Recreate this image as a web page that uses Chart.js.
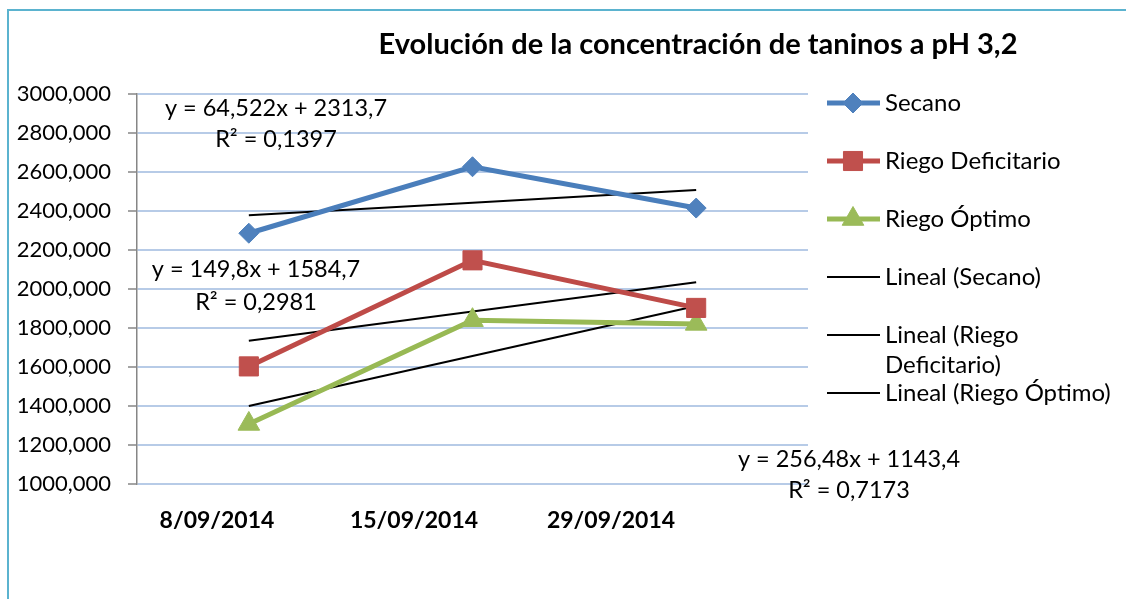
<!DOCTYPE html>
<html lang="es">
<head>
<meta charset="utf-8">
<title>Evolución de la concentración de taninos a pH 3,2</title>
<script src="https://cdn.jsdelivr.net/npm/chart.js@4/dist/chart.umd.min.js"></script>
<style>
  html, body { margin: 0; padding: 0; background: #fff; overflow: hidden; }
  #marco {
    position: absolute; left: 7px; top: 9px;
    width: 1140px; height: 620px;
    border: 2px solid #5bb3cf; box-sizing: border-box;
  }
  #grafico { position: absolute; left: 0; top: 0; }
</style>
</head>
<body>
<div id="marco"></div>
<canvas id="grafico" width="1126" height="599"></canvas>
<script>
// Datos
const fechas = ["8/09/2014", "15/09/2014", "29/09/2014"];
const secano = [2286, 2627, 2415];
const riegoDeficitario = [1603, 2147, 1903];
const riegoOptimo = [1308, 1840, 1821];

// Líneas de tendencia (ecuaciones mostradas en el gráfico)
const pendientes = [64.522, 149.8, 256.48];
const ordenadas = [2313.7, 1584.7, 1143.4];
const r2 = [0.1397, 0.2981, 0.7173];

const ticksY = [1000, 1200, 1400, 1600, 1800, 2000, 2200, 2400, 2600, 2800, 3000];

const titulo = "Evolución de la concentración de taninos a pH 3,2";
const series = ["Secano", "Riego Deficitario", "Riego Óptimo"];

const coma = (n) => String(n).replace(".", ",");
const tendencia = (k) => fechas.map((f, i) => pendientes[k] * (i + 1) + ordenadas[k]);

// posiciones de las etiquetas de ecuación (centro x, y ecuación, y R²)
const etiquetasEc = [
  [276, 108, 139],
  [256, 269, 302],
  [849, 459, 490],
];

const textosPlugin = {
  id: "textos",
  afterDraw(chart) {
    const ctx = chart.ctx;
    ctx.save();
    ctx.fillStyle = "#000";
    ctx.textBaseline = "middle";

    // título
    ctx.textAlign = "center";
    ctx.font = "bold 29px Lato";
    ctx.fillText(titulo, 698, 45);

    // ecuaciones
    ctx.font = "23.5px Lato";
    etiquetasEc.forEach((p, k) => {
      ctx.fillText("y = " + coma(pendientes[k]) + "x + " + coma(ordenadas[k]), p[0], p[1]);
      ctx.fillText("R² = " + coma(r2[k]), p[0], p[2]);
    });

    // leyenda
    ctx.textAlign = "left";
    ctx.font = "24px Lato";
    chart.data.datasets.forEach((ds, i) => {
      const y = 103 + i * 58;
      ctx.strokeStyle = ds.borderColor;
      ctx.lineWidth = ds.borderWidth;
      ctx.beginPath();
      ctx.moveTo(827, y);
      ctx.lineTo(880, y);
      ctx.stroke();
      if (ds.pointRadius > 0) {
        ctx.fillStyle = ds.pointBackgroundColor;
        ctx.strokeStyle = ds.pointBackgroundColor;
        ctx.lineWidth = 1;
        Chart.helpers.drawPoint(ctx, { pointStyle: ds.pointStyle, radius: ds.pointRadius, rotation: 0, borderWidth: 1 }, 853, y);
      }
      ctx.fillStyle = "#000";
      // ajuste de línea como en Excel
      const palabras = ds.label.split(" ");
      let linea = "", ly = y;
      palabras.forEach((w) => {
        const prueba = linea ? linea + " " + w : w;
        if (linea && ctx.measureText(prueba).width > 236) {
          ctx.fillText(linea, 885, ly);
          linea = w;
          ly += 30;
        } else {
          linea = prueba;
        }
      });
      ctx.fillText(linea, 885, ly);
    });
    ctx.restore();
  },
};

const ctx = document.getElementById("grafico").getContext("2d");
const grafico = new Chart(ctx, {
  type: "line",
  data: {
    labels: fechas,
    datasets: [
      {
        label: series[0],
        data: secano,
        borderColor: "#4a7ebb",
        borderWidth: 5,
        pointStyle: "rectRot",
        pointRadius: 10,
        pointBackgroundColor: "#4f81bd",
        pointBorderColor: "#4f81bd",
        pointBorderWidth: 1,
      },
      {
        label: series[1],
        data: riegoDeficitario,
        borderColor: "#be4b48",
        borderWidth: 5,
        pointStyle: "rect",
        pointRadius: 13.5,
        pointBackgroundColor: "#c0504d",
        pointBorderColor: "#c0504d",
        pointBorderWidth: 1,
      },
      {
        label: series[2],
        data: riegoOptimo,
        borderColor: "#98b954",
        borderWidth: 5,
        pointStyle: "triangle",
        pointRadius: 12.5,
        pointBackgroundColor: "#9bbb59",
        pointBorderColor: "#9bbb59",
        pointBorderWidth: 1,
      },
      ...series.map((s, k) => ({
        label: "Lineal (" + s + ")",
        data: tendencia(k),
        borderColor: "#000",
        borderWidth: 2,
        pointRadius: 0,
      })),
    ],
  },
  options: {
    responsive: false,
    animation: false,
    layout: { padding: { left: 0, top: 94, right: 318, bottom: 0 } },
    plugins: {
      legend: { display: false },
      tooltip: { enabled: false },
    },
    scales: {
      x: { type: "category", display: false, offset: true },
      xFechas: {
        type: "linear",
        position: "bottom",
        min: 0.594,
        max: 4.0,
        grid: { display: false },
        border: { display: false },
        afterBuildTicks: (s) => { s.ticks = fechas.map((f, i) => ({ value: i + 1 })); },
        afterFit: (s) => { s.height = 115; },
        ticks: {
          callback: (v) => fechas[v - 1],
          font: { family: "Lato", size: 23, weight: "bold" },
          color: "#000",
          padding: 15,
          maxRotation: 0,
          autoSkip: false,
        },
      },
      y: {
        min: 1000,
        max: 3000,
        afterBuildTicks: (s) => { s.ticks = ticksY.map((v) => ({ value: v })); },
        afterFit: (s) => { s.width = 137; },
        grid: { color: "#b7cbe7", lineWidth: 2, tickColor: "#868686", tickLength: 9, tickWidth: 1.5 },
        border: { color: "#868686", width: 1.5 },
        ticks: {
          callback: (v) => v + ",000",
          font: { family: "Lato", size: 22 },
          color: "#000",
          padding: 17,
        },
      },
    },
  },
  plugins: [textosPlugin],
});
</script>
</body>
</html>
